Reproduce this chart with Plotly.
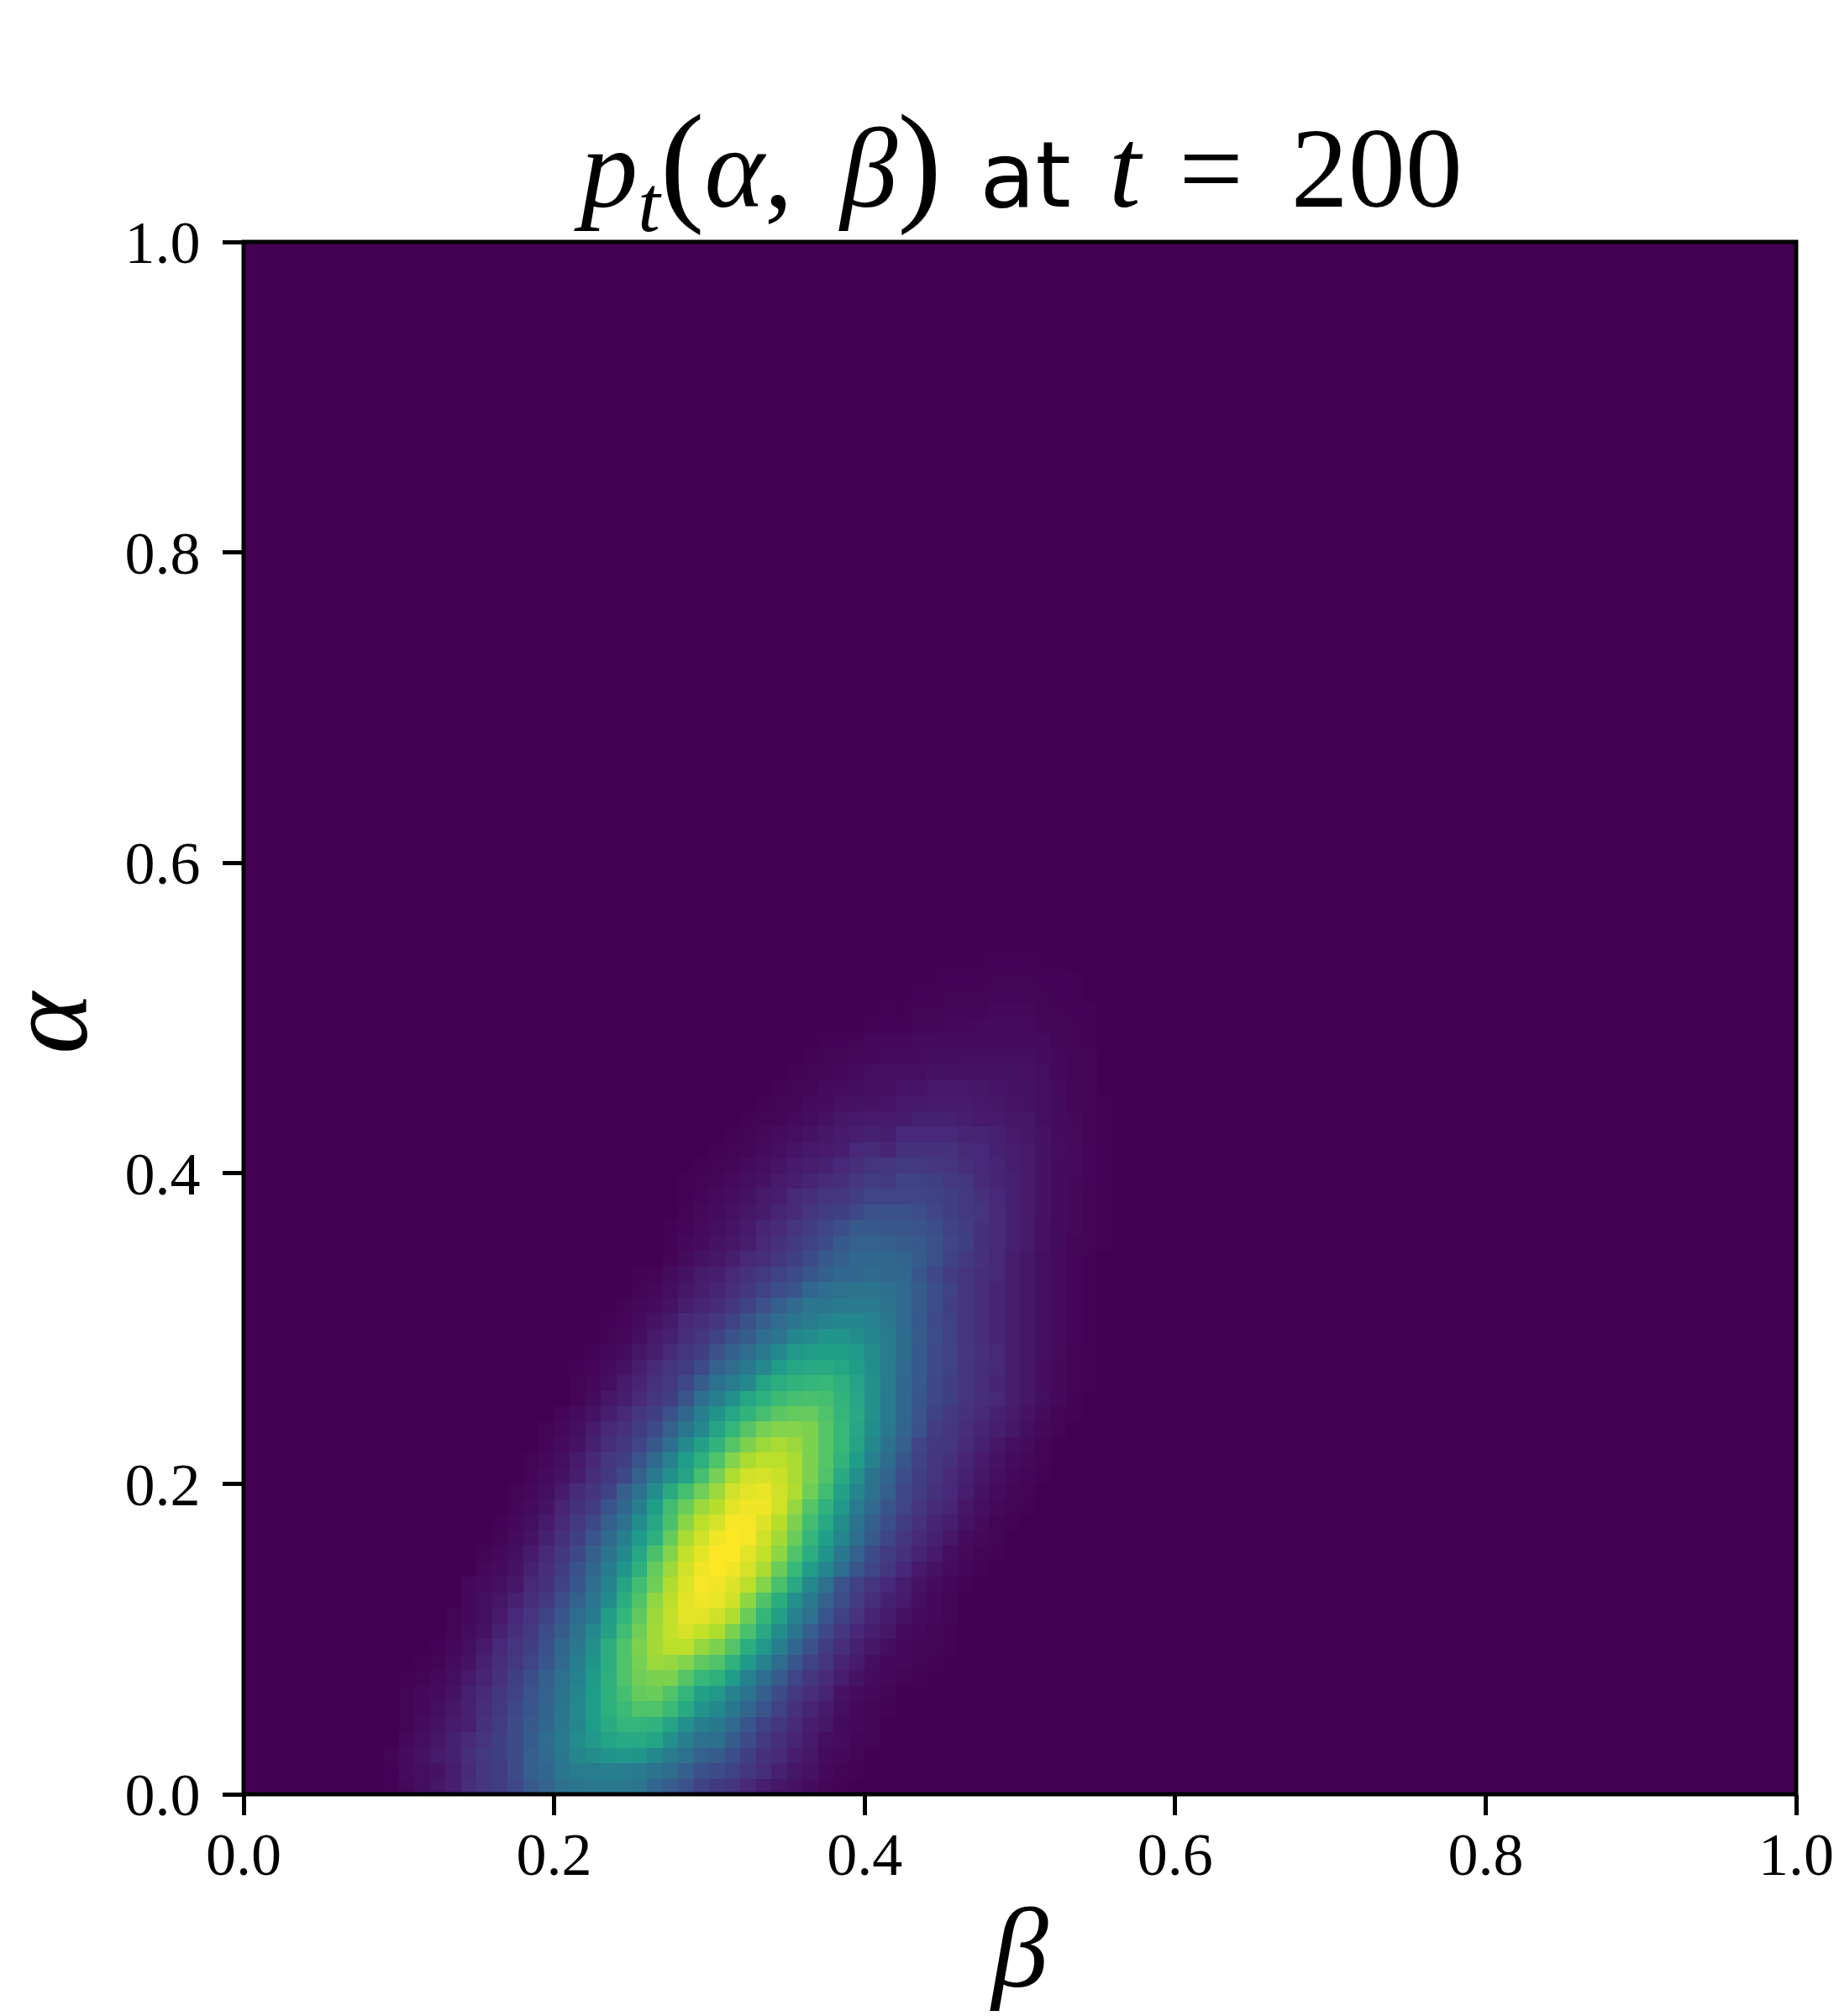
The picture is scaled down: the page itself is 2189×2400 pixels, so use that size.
import plotly.graph_objects as go

GRID_SIZE = 100
CELL = 0.01

# Percent of the colour scale, read cell by cell. Rows run from alpha=0 upward.
# Rows 0-34: left part ends at column 29, right part starts at column 30.
A_LEFT = [
 [.5,2,4,6,8,13,16,18,22,28,32,37,39,40,41,40,39,33,29,25,20],
 [.5,3,4,5,8,12,16,18,23,30,33,39,42,42,43,42,41,38,35,30,25],
 [1,3,5,7,9,13,17,19,23,30,34,40,46,49,52,53,52,47,42,37,31],
 [2,4,6,9,12,15,19,23,29,35,41,48,53,58,60,60,58,50,43,37],
 [1,3,5,7,9,14,18,23,28,33,40,46,55,61,66,66,64,58,50,43],
 [1,2,4,6,9,13,17,22,27,32,39,47,55,63,68,72,72,68,60,52],
 [1,2,3,5,9,12,16,20,26,31,38,46,55,63,70,76,77,72,66,57],
 [.5,1,2,4,7,10,14,19,24,30,37,44,54,63,72,78,80,80,73,67],
 [.5,1,3,5,9,13,17,21,27,34,43,52,62,72,79,85,84,81,75],
 [.5,2,4,7,11,15,19,25,33,40,50,62,72,80,86,90,90,84],
 [1,3,5,9,13,17,23,29,37,47,57,69,78,86,91,94,91],
 [1,2,4,7,11,15,20,27,35,41,55,66,75,85,91,96,96],
 [2,4,6,9,13,17,24,31,39,48,62,72,83,90,96,98],
 [2,3,4,6,11,14,20,27,36,45,58,69,78,88,95,99],
 [2,3,5,9,13,18,25,33,42,52,63,76,85,93,98],
 [1,2,4,7,11,16,22,30,38,47,59,71,81,91,96],
 [1,3,5,9,14,19,26,34,43,54,63,76,87,93],
 [.5,2,4,7,11,17,22,30,37,49,59,71,82,90],
 [1.5,3,5,10,14,18,26,33,43,56,69,77,85],
 [1,2,4,7,12,15,20,30,37,49,61,70,78],
 [1.5,3,5,8,13,17,22,31,41,50,58,70],
 [1,2,4,7,11,16,19,26,34,44,55,63],
 [1.5,3,5,9,13,16,21,28,36,47,57],
 [1,2,4,7,11,14,18,23,31,39,47],
 [1.5,3,5,8,11,16,19,25,33,43],
 [1,3,6,8,12,16,19,26,36],
 [1,2,4,7,10,14,17,22,29],
 [.5,1.5,3,5,8,12,15,18,23],
 [.5,2,3,6,8,12,15,19],
 [1,2,4,7,9,13,16],
 [.5,1.5,3,5,7,11,13],
 [1,2,3,5,8,10],
 [1,2,4,6,8],
 [.5,1,3,5,7],
 [1,3,5],
]
A_RIGHT = [
 [17,15,11,8,6,5,3,1.5,.5],
 [23,20,16,13,9,6,5,2,1,.5],
 [29,24,19,14,12,8,6,3,2,1],
 [36,29,23,17,13,10,7,4,3,1.5,1],
 [40,34,27,20,16,12,8,6,3,2,1],
 [47,40,33,26,20,14,10,7,4,2,1,.5],
 [53,45,38,30,23,17,13,10,5,3,2,1],
 [63,55,44,36,29,21,16,12,8,5,3,2,1,.5],
 [72,64,54,45,35,27,20,15,10,7,4,2,2,1,.5],
 [80,73,62,53,43,33,25,18,13,9,6,4,2,1.5,1,.5],
 [88,80,71,60,49,39,30,22,16,11,8,6,3,2,1,.5],
 [93,88,77,66,57,45,37,27,20,15,10,7,5,3,2,1],
 [97,93,83,72,62,50,41,31,24,18,13,9,7,4,2,1],
 [98,95,90,81,71,60,47,37,26,20,15,11,8,5,3,1.5,.5],
 [100,98,94,87,77,67,55,46,36,27,21,16,11,7,5,3,1.5,.5],
 [100,100,96,91,83,72,62,52,40,31,23,18,14,10,7,4,2,1,.5],
 [98,100,99,93,86,77,66,56,46,36,28,21,16,12,9,6,3,2,1],
 [94,99,99,95,89,80,69,60,49,38,30,24,18,14,10,8,5,3,1,.5],
 [89,96,98,98,93,84,73,64,53,42,34,26,21,16,12,10,6,4,2,1,.5],
 [85,93,96,97,93,88,78,69,57,46,37,30,22,18,14,11,8,5,3,1.5,1],
 [79,88,93,94,92,87,80,72,61,50,38,32,24,19,15,12,9,6,4,2,1.5,.5],
 [72,81,87,90,90,87,80,73,65,55,44,35,27,20,16,14,10,7,5,3,2,1],
 [65,73,80,85,87,85,80,73,67,58,47,37,30,21,17,15,12,9,6,4,3,1],
 [58,66,73,79,81,81,80,73,67,59,49,40,32,25,18,16,13,10,8,6,4,2,1],
 [51,59,65,70,74,76,76,72,66,60,50,41,33,26,20,17,14,12,9,7,5,3,1,.5],
 [43,50,59,63,68,70,71,70,65,59,50,41,33,27,22,19,15,13,11,8,6,4,2,.5],
 [37,42,47,58,62,65,66,67,63,58,50,42,33,28,22,19,16,13,10,8,6,3.5,2,1,.5],
 [31,35,41,47,55,59,60,61,59,55,49,42,34,28,23,20,16,13,11,8,6,3.5,2,1,.5],
 [25,30,35,41,47,53,55,56,56,54,49,42,35,28,23,20,16,14,11,8,6,4,2.5,1,.5],
 [20,25,29,35,39,46,48,52,52,49,46,42,35,29,24,20,15,13,10,8,6,4,2.5,1.5,.5],
 [16,20,25,30,35,39,42,45,46,46,44,40,34,28,23,20,15,13,10,8,6,4,2.5,1.5,.5],
 [12,16,20,25,30,34,39,39,41,41,41,38,34,29,24,19,16,13,10,8,6,4,2.5,1.5,.5],
 [10,13,16,20,24,26,33,36,37,38,38,36,34,29,24,20,16,13,10,8,6,4,2.5,1.5,.5],
 [8,11,14,17,20,23,27,30,33,33,34,33,33,27,22,18,15,13,11,8,6,4,2.5,1.5,.5],
 [6,8,11,13,16,19,23,28,30,33,33,33,32,29,25,20,17,14,11,8,6,4,2.5,1.5,.5],
]
# Rows 35-56: left part ends at column 37, right part starts at column 38.
B_LEFT = [
 [.5,2,3,5,6,8,11,14,17,20,23],
 [.5,1.5,2.5,4,5.5,7,10,12,15,18,21],
 [1,2,3,4.5,6,7.5,10,12,15,18],
 [.5,1.5,2.5,3.5,5,7,8,11,13,15],
 [.5,1,1.5,2.5,4,5,7,8,10,12],
 [.5,1,1.5,3,4,5.5,7,8,9],
 [.5,1,1.5,3,4,5.5,6.5,7],
 [.5,1,2,3,4,5,6],
 [.5,1,1.5,2.5,3.5,4.5],
 [.5,1,1.5,2.5,3],
 [.5,1,1.5,2.5],
 [.5,1,1.5],
 [.5,1],
 [.5],
 [],
 [],
 [],
 [],
 [],
 [],
 [],
 [],
]
B_RIGHT = [
 [28,31,31,30,29,28,25,21,19,14,12,9,7,4.5,3,1.5,1,.5],
 [24,28,28,27,27,26,24,20,18,14,12,9,7,4.5,3,2,1,.5],
 [19,22,25,25,25,24,21,19,17,15,12,9,7,5,3,2,1,.5],
 [16,19,21,21,21,21,20,19,17,14,11,9,7,5,3,2,1,.5],
 [13,16,18,17,20,20,19,17,16,12,10,9,7,5,3,2,1.5,.5],
 [11,13,15,16,17,17,16,15,13,11,10,8,7,5,3,2.5,1.5,.5],
 [8,11,12,10,14,14,14,14,12,11,9,8,7,5,3.5,2.5,1.5,.5],
 [7,8,9,8,11,11,11,11,10,10,9,7,6,5,3,2.5,1,.5],
 [6,6.5,7,7,7.5,9,9,9,8,7,7,6,6,4,3,2,1,.5],
 [4.5,5,5,5.5,6.5,6.5,7,7,7,6.5,6,5.5,5,4,3,1.5,1,.5],
 [3,3.5,4,4,5.5,5.5,6.5,6.5,6.5,6,5.5,5,5,4,2.5,1.5,1],
 [2,2.5,4,4,4,4,5,5,5,5,5,5,4.5,4,2,1.5,1],
 [1.5,2,2,3,3,3,3.5,3.5,4,4,4,4,4,3,2,1.5,1],
 [.5,1,2,2,2,3,3,3,3,3,3,3,3,3,1.5,1,.5],
 [0,0,.5,.5,.5,1.5,1.5,2,2,2.5,2.5,2.5,2.5,1.5,1,1,.5],
 [0,0,0,.5,.3,1,1,1.5,1.5,1.5,2,2,2,1,1,.5,.5],
 [0,0,0,.3,.3,.5,.5,1,1,1,1.5,1.5,1.5,1,.5,.5],
 [0,0,0,0,.3,.3,.3,.5,.5,.5,1,1,1,.5,.5,.5],
 [0,0,0,0,0,.2,.3,.3,.3,.3,.5,.5,.5,.3,.3],
 [0,0,0,0,0,0,.2,.2,.2,.3,.3,.3,.3,.2],
 [0,0,0,0,0,0,0,.1,.2,.2,.2,.2,.2,.1],
 [0,0,0,0,0,0,0,0,.1,.1,.1,.1,.1],
]

TICK_VALUES = [0.0, 0.2, 0.4, 0.6, 0.8, 1.0]
TICK_LABELS = ["0.0", "0.2", "0.4", "0.6", "0.8", "1.0"]

z = [[0.0] * GRID_SIZE for _ in range(GRID_SIZE)]
row = 0
for left, right, split in [(A_LEFT, A_RIGHT, 30), (B_LEFT, B_RIGHT, 38)]:
    for lv, rv in zip(left, right):
        for k, v in enumerate(lv):
            z[row][split - len(lv) + k] = v / 100
        for k, v in enumerate(rv):
            z[row][split + k] = v / 100
        row += 1

centers = [(i + 0.5) * CELL for i in range(GRID_SIZE)]

fig = go.Figure(go.Heatmap(x=centers, y=centers, z=z, colorscale="Viridis",
                           zmin=0, zmax=1, showscale=False, hoverinfo="skip"))

SERIF = "Liberation Serif"
BLACK = "#000000"
axis = dict(range=[0, 1], tickmode="array", tickvals=TICK_VALUES, ticktext=TICK_LABELS,
            ticks="outside", ticklen=24, tickwidth=5, tickcolor=BLACK, showgrid=False,
            zeroline=False, showline=False, automargin=False,
            tickfont=dict(family=SERIF, size=72, color=BLACK))

PAREN = '<span style="font-size:158px">%s</span>'
HAIR = "\u200a"
title_text = (
    '<i>p<sub>t</sub></i>' + PAREN % "(" + '<i>α</i>,' + HAIR + HAIR + ' <i>β</i>' + PAREN % ")" + ' ' + HAIR +
    '<span style="font-family:\'DejaVu Sans\';font-size:108px">at</span>' + HAIR + ' '
    '<i>t</i>' + HAIR + ' = ' + HAIR + HAIR + '200'
)

fig.update_layout(
    template="none",
    width=2189, height=2400, paper_bgcolor="white", plot_bgcolor="white",
    margin=dict(l=290, r=51, t=288, b=264),
    xaxis=dict(axis, ticklabelstandoff=-15,
               title=dict(text="<i>β</i>", font=dict(family=SERIF, size=135, color=BLACK), standoff=23)),
    yaxis=dict(axis, ticklabelstandoff=12),
    title=dict(
        text=title_text,
        font=dict(family=SERIF, size=136, color=BLACK),
        x=1216 / 2189, xanchor="center", xref="container",
        y=1 - 246 / 2400, yref="container", yanchor="bottom", pad=dict(b=0)),
    annotations=[dict(text="<i>α</i>", textangle=-90, showarrow=False,
                      xref="paper", yref="paper", x=(55 - 290) / 1848, y=(2136 - 1217) / 1848,
                      xanchor="center", yanchor="middle",
                      font=dict(family=SERIF, size=140, color=BLACK))],
    shapes=[dict(type="rect", xref="x domain", yref="y domain", x0=0, x1=1, y0=0, y1=1,
                 line=dict(color=BLACK, width=5), fillcolor="rgba(0,0,0,0)", layer="above")],
)

fig.write_html("out.html", config=dict(displayModeBar=False),
               post_script="document.body.style.margin='0';")
